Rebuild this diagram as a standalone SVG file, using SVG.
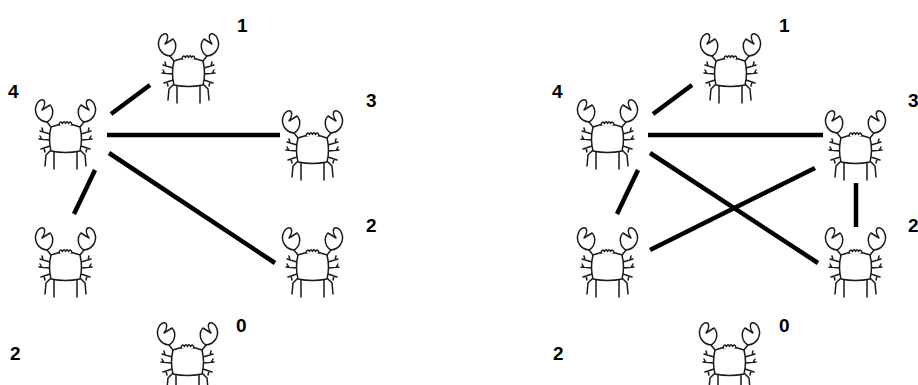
<svg xmlns="http://www.w3.org/2000/svg" xmlns:xlink="http://www.w3.org/1999/xlink" width="918" height="385" viewBox="0 0 918 385">
  <style>
    .edge { stroke: #000; stroke-width: 4.5; stroke-linecap: butt; fill: none; }
    .lbl { font-family: "Liberation Sans", Arial, sans-serif; font-weight: bold; font-size: 19px; fill: #000; }
    .crab-line { stroke: #1a1a1a; stroke-width: 1.5; fill: #fff; stroke-linecap: round; stroke-linejoin: round; }
  </style>
  <defs>
    <!-- one half of the crab: claw, arm, side legs, bottom legs -->
    <g id="crab-half">
      <path class="crab-line" d="M13,23 C4,22 0,14 2,7 C3,2 8,-0.5 10,1.5 C11.5,4 10,8 8,11 L16,6 C20,10 20,19 13,23 Z"/>
      <path class="crab-line" d="M13,23 L17,28"/>
      <path class="crab-line" d="M16,35 L6,32 M15.5,41 L5,40 M16,47 L7,50 M9,33 L8,29 M8,40.5 L6,37 M10,49 L11,53"/>
      <path class="crab-line" d="M20,53 L20,70 M17,51 L12,56 L11,67"/>
    </g>
    <g id="crab">
      <use xlink:href="#crab-half"/>
      <use xlink:href="#crab-half" transform="translate(63,0) scale(-1,1)"/>
      <path class="crab-line" d="M17,28 Q31.5,22 46,28 Q49,40 46,52 Q31.5,55 17,52 Q14,40 17,28 Z"/>
      <path class="crab-line" d="M25,26 Q26,21 28.5,24.5 Q30,21 31.5,24.5 Q33,21 34.5,24.5 Q37,21 38,26"/>
    </g>
  </defs>

  <!-- connectors -->
  <g id="connectors">
    <!-- left graph -->
    <line class="edge" x1="111" y1="114" x2="150" y2="85"/>
    <line class="edge" x1="107" y1="135" x2="280" y2="135"/>
    <line class="edge" x1="109" y1="153" x2="275" y2="263"/>
    <line class="edge" x1="95" y1="170" x2="74" y2="214"/>
    <!-- right graph -->
    <line class="edge" x1="653" y1="114" x2="692" y2="85"/>
    <line class="edge" x1="648" y1="135" x2="823" y2="135"/>
    <line class="edge" x1="650" y1="153" x2="818" y2="263"/>
    <line class="edge" x1="638" y1="170" x2="617" y2="214"/>
    <line class="edge" x1="650" y1="250" x2="815" y2="168"/>
    <line class="edge" x1="856" y1="183" x2="856" y2="227"/>
  </g>

  <!-- left graph nodes -->
  <g id="L-node-4"><use xlink:href="#crab" x="34" y="99"/><text class="lbl" x="8" y="98">4</text></g>
  <g id="L-node-1"><use xlink:href="#crab" x="157" y="33"/><text class="lbl" x="237" y="32">1</text></g>
  <g id="L-node-3"><use xlink:href="#crab" x="281" y="110"/><text class="lbl" x="366" y="107">3</text></g>
  <g id="L-node-2a"><use xlink:href="#crab" x="281" y="227"/><text class="lbl" x="366" y="232">2</text></g>
  <g id="L-node-2b"><use xlink:href="#crab" x="34" y="227"/><text class="lbl" x="10" y="360">2</text></g>
  <g id="L-node-0"><use xlink:href="#crab" x="156" y="322"/><text class="lbl" x="236" y="332">0</text></g>

  <!-- right graph nodes -->
  <g id="R-node-4"><use xlink:href="#crab" x="576" y="99"/><text class="lbl" x="552" y="98">4</text></g>
  <g id="R-node-1"><use xlink:href="#crab" x="699" y="33"/><text class="lbl" x="779" y="32">1</text></g>
  <g id="R-node-3"><use xlink:href="#crab" x="824" y="110"/><text class="lbl" x="908" y="107">3</text></g>
  <g id="R-node-2a"><use xlink:href="#crab" x="824" y="227"/><text class="lbl" x="908" y="232">2</text></g>
  <g id="R-node-2b"><use xlink:href="#crab" x="576" y="227"/><text class="lbl" x="553" y="360">2</text></g>
  <g id="R-node-0"><use xlink:href="#crab" x="698" y="322"/><text class="lbl" x="779" y="332">0</text></g>
</svg>
